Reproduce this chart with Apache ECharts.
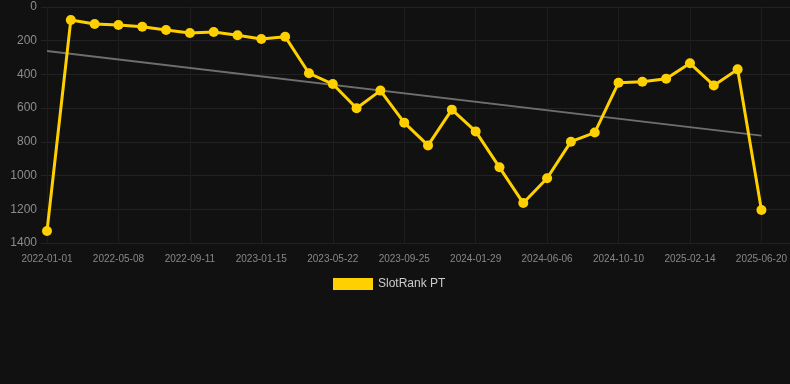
<!DOCTYPE html>
<html>
<head>
<meta charset="utf-8">
<script src="https://cdn.jsdelivr.net/npm/echarts@6/dist/echarts.min.js"></script>
<style>
html,body{margin:0;padding:0;background:#111111;}
#chart{width:790px;height:384px;}
</style>
</head>
<body>
<div id="chart"></div>
<script>
const categories = [
  "2022-01-01","2022-02-12","2022-03-26","2022-05-08","2022-06-19","2022-07-31",
  "2022-09-11","2022-10-23","2022-12-04","2023-01-15","2023-02-26","2023-04-09",
  "2023-05-22","2023-07-03","2023-08-14","2023-09-25","2023-11-06","2023-12-18",
  "2024-01-29","2024-03-11","2024-04-23","2024-06-06","2024-07-18","2024-08-29",
  "2024-10-10","2024-11-21","2025-01-02","2025-02-14","2025-03-28","2025-05-09",
  "2025-06-20"
];
const rankValues = [
  1329, 77, 101, 107, 117, 136, 154, 148, 168, 190, 176, 393,
  457, 601, 496, 686, 821, 609, 738, 951, 1163, 1016, 799, 745,
  449, 443, 425, 334, 465, 370, 1204
];
const trendStart = 261;
const trendEnd = 763;
const yTicks = [0, 200, 400, 600, 800, 1000, 1200, 1400];

const trendData = [
  [categories[0], trendStart],
  [categories[categories.length - 1], trendEnd]
];

const chart = echarts.init(document.getElementById('chart'), null, {renderer: 'canvas'});
chart.setOption({
  backgroundColor: '#111111',
  animation: false,
  grid: [
    {left: 41, right: 0, top: 7, bottom: 141},
    {left: 47, right: 28, top: 7, bottom: 141}
  ],
  legend: {
    data: ['SlotRank PT'],
    top: 273,
    left: 328,
    icon: 'rect',
    itemWidth: 40,
    itemHeight: 12,
    itemGap: 10,
    textStyle: {color: '#cccccc', fontSize: 12, fontFamily: 'Liberation Sans, Arial, sans-serif'}
  },
  xAxis: [
    {
      gridIndex: 0, type: 'category', data: categories, show: false
    },
    {
      gridIndex: 1, type: 'category', data: categories, boundaryGap: false,
      axisLine: {show: false},
      axisTick: {show: false},
      axisLabel: {
        interval: 2, color: '#888888', fontSize: 10, margin: 11,
        fontFamily: 'Liberation Sans, Arial, sans-serif'
      },
      splitLine: {show: true, interval: 2, lineStyle: {color: '#1d1d1d', width: 1}}
    }
  ],
  yAxis: [
    {
      gridIndex: 0, type: 'value', inverse: true, min: yTicks[0], max: yTicks[yTicks.length - 1], interval: 200,
      axisLine: {show: false}, axisTick: {show: false},
      axisLabel: {
        color: '#8c8c8c', fontSize: 12, margin: 4,
        fontFamily: 'Liberation Sans, Arial, sans-serif',
        formatter: function (v) { return String(v); }
      },
      splitLine: {show: true, lineStyle: {color: '#222222', width: 1}}
    },
    {
      gridIndex: 1, type: 'value', inverse: true, min: yTicks[0], max: yTicks[yTicks.length - 1], interval: 200,
      show: false, splitLine: {show: false}
    }
  ],
  series: [
    {
      name: 'Trend',
      type: 'line',
      xAxisIndex: 1, yAxisIndex: 1,
      data: trendData,
      symbol: 'none',
      lineStyle: {color: '#6e6e6e', width: 2},
      silent: true,
      z: 2
    },
    {
      name: 'SlotRank PT',
      type: 'line',
      xAxisIndex: 1, yAxisIndex: 1,
      data: rankValues,
      symbol: 'circle',
      symbolSize: 10,
      lineStyle: {color: '#ffd000', width: 3},
      itemStyle: {color: '#ffd000'},
      z: 3
    }
  ]
});
</script>
</body>
</html>
